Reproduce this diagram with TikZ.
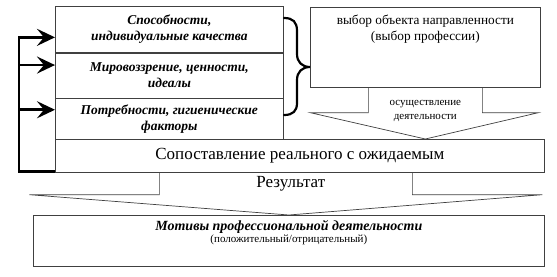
\documentclass[tikz,border=0pt]{standalone}
\usepackage{fontspec}
\setmainfont{Liberation Serif}
\usetikzlibrary{positioning, calc, arrows.meta}

\begin{document}
\begin{tikzpicture}[x=1pt, y=-1pt,
    box/.style={draw=black!75, line width=0.7pt, rectangle, inner sep=2pt, align=center},
    lbox/.style={box, minimum width=228pt, font=\fontsize{13.5}{16}\selectfont\bfseries\itshape},
    blockarrow/.style={draw=black!75, line width=0.7pt, line join=miter},
    fbline/.style={line width=2.8pt, line join=miter},
    fbarrow/.style={line width=2.8pt, -{Stealth[length=18pt, width=17pt, inset=7pt]}},
    bracepath/.style={line width=2.2pt, line cap=round}]
      \useasboundingbox (0,0) rectangle (557,276);

      % left column
      \node[lbox, minimum height=46pt, anchor=north west] (abil) at (55,6) {Способности,\\индивидуальные качества};
      \node[lbox, minimum height=45pt, below=0pt of abil] (views) {Мировоззрение, ценности,\\идеалы};
      \node[lbox, minimum height=41pt, below=0pt of views] (needs) {Потребности, гигиенические\\факторы};

      % right box
      \node[box, minimum width=230pt, minimum height=80pt, anchor=north west] (choice) at (310,7) {};
      \node[anchor=north, align=center, font=\fontsize{13.3}{16}\selectfont] (choicelbl) at ($(choice.north)+(0,4)$) {выбор объекта направленности\\(выбор профессии)};

      % comparison and result
      \node[box, minimum width=489pt, minimum height=33pt, anchor=north west, font=\fontsize{17}{19}\selectfont] (cmp) at (55,139) {Сопоставление реального с ожидаемым};
      \node[box, minimum width=511pt, minimum height=51pt, anchor=north west] (motive) at (33,215) {};
      \node[anchor=north, align=center] (motivelbl) at ($(motive.north)+(0,2)$) {{\fontsize{14}{16}\selectfont\bfseries\itshape Мотивы профессиональной деятельности}\\{\fontsize{11}{13}\selectfont(положительный/отрицательный)}};

      % brace
      \draw[bracepath] (284,18) .. controls (293,18) and (297,22) .. (297,31) -- (297,54)
            .. controls (297,62) and (302,67) .. (310,67)
            .. controls (302,67) and (297,72) .. (297,80) -- (297,103)
            .. controls (297,111) and (293,115) .. (284,115);

      % activity arrow
      \draw[blockarrow] ($(choice.south)+(-57,0)$) -- ++(0,25) -- ++(-58,0) -- (cmp.north -| choice.south)
            -- ($(choice.south)+(113,25)$) -- ++(-56,0) -- ++(0,-25);
      \node[align=center, font=\fontsize{11}{14}\selectfont] (act) at ($(choice.south)+(0,23.5)$) {осуществление\\деятельности};

      % result arrow
      \draw[blockarrow] ($(cmp.south)+(-140.5,0)$) -- ++(0,22) -- ++(-130,0) -- (motive.north)
            -- ($(cmp.south)+(242.5,22)$) -- ++(-130,0) -- ++(0,-22);
      \node[font=\fontsize{17}{19}\selectfont] (res) at ($(cmp.south)+(-9,11)$) {Результат};

      % feedback
      \coordinate (fb) at ($(cmp.south west)+(-36,-1)$);
      \coordinate (a1) at ([yshift=-8pt]abil.west);
      \coordinate (a2) at ([yshift=10.5pt]views.west);
      \coordinate (a3) at ([yshift=9.5pt]needs.west);
      \draw[fbline] ($(cmp.south west)+(0,-1)$) -- (fb) -- (fb |- a1) -- ++(1.4,0);
      \draw[fbarrow] (fb |- a1) -- (a1);
      \draw[fbarrow] (fb |- a2) -- (a2);
      \draw[fbarrow] (fb |- a3) -- (a3);

\end{tikzpicture}
\end{document}
